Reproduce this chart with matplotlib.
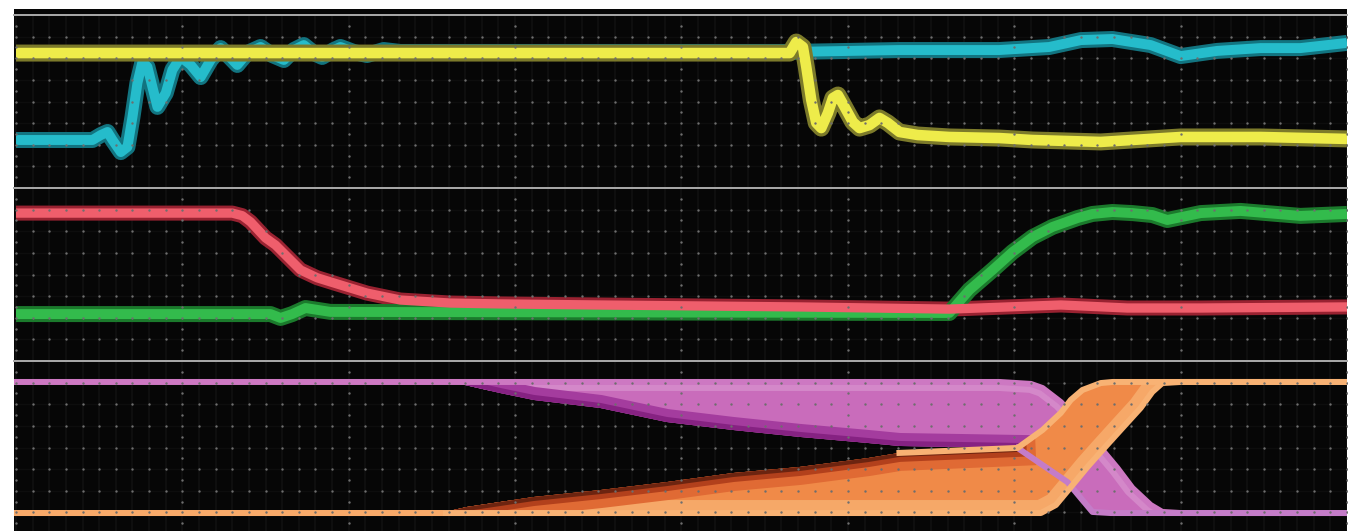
import numpy as np
import matplotlib
matplotlib.use("Agg")
import matplotlib.pyplot as plt

# time base: 8 divisions of 100 ns, every channel pair uses 8 vertical divisions

# pair 1: yellow / cyan
yel_t = [0, 231, 465, 469, 473, 475, 478, 481, 484, 488, 491, 494, 498, 503, 507, 513, 519, 524, 531, 542, 561, 591, 611, 652,
         700, 748, 800]
yel_v = [6.24, 6.24, 6.24, 6.75, 6.52, 5.60, 4.07, 3.01, 2.77, 3.47, 4.16, 4.30, 3.75, 3.05, 2.77, 2.91, 3.24, 3.01, 2.59, 2.45,
         2.36, 2.31, 2.22, 2.13, 2.36, 2.36, 2.27]
cya_t = [0, 46, 51, 55, 58, 63, 67, 70, 73, 76, 79, 82, 85, 90, 94, 99, 105, 111, 117, 123, 129, 133, 139, 147, 154, 161,
         167, 173, 179, 184, 191, 195, 203, 211, 221, 231, 465, 531, 591, 621, 640, 659, 682, 700, 722, 748, 772, 800]
cya_v = [2.22, 2.22, 2.45, 2.59, 2.22, 1.66, 1.90, 3.28, 4.86, 5.83, 5.60, 4.67, 3.75, 4.39, 5.46, 6.06, 5.69, 5.13, 5.92,
         6.47, 6.01, 5.69, 6.24, 6.52, 6.15, 5.92, 6.38, 6.61, 6.24, 6.06, 6.38, 6.52, 6.29, 6.15, 6.38, 6.29, 6.29, 6.38,
         6.38, 6.52, 6.84, 6.89, 6.61, 6.10, 6.34, 6.47, 6.47, 6.71]

# pair 2: red / green
red_t = [0, 130, 136, 141, 150, 156, 162, 171, 181, 191, 211, 231, 261, 291, 351, 471, 561, 628, 668, 712, 800]
red_v = [6.84, 6.84, 6.72, 6.43, 5.69, 5.36, 4.90, 4.21, 3.85, 3.61, 3.14, 2.82, 2.68, 2.64, 2.59, 2.50, 2.40, 2.59, 2.45, 2.45, 2.50]
grn_t = [0, 153, 159, 166, 174, 189, 561, 573, 587, 599, 611, 623, 638, 647, 659, 671, 683, 692, 712, 736, 772, 800]
grn_v = [2.17, 2.17, 1.99, 2.17, 2.45, 2.27, 2.22, 3.28, 4.21, 5.04, 5.73, 6.20, 6.61, 6.80, 6.89, 6.84, 6.75, 6.52, 6.84, 6.94, 6.71, 6.80]

# pair 3: magenta / orange persistence envelopes (upper and lower edge)
mag_up_t = [0, 591, 610, 617, 628, 635, 646, 653, 662, 671, 682, 689, 700, 800]
mag_up_v = [7.03, 7.03, 6.94, 6.75, 6.10, 5.50, 4.58, 3.88, 3.05, 2.13, 1.34, 1.02, 0.97, 0.97]
mag_lo_t = [0, 267, 291, 311, 351, 391, 431, 471, 512, 531, 602, 617, 632, 640, 647, 658, 800]
mag_lo_v = [7.03, 6.94, 6.52, 6.20, 5.83, 5.18, 4.81, 4.49, 4.21, 4.07, 3.98, 3.19, 2.40, 1.66, 1.02, 0.97, 0.97]
org_up_t = [0, 255, 271, 311, 351, 391, 431, 471, 512, 531, 602, 617, 628, 634, 641, 652, 659, 800]
org_up_v = [0.97, 0.97, 1.25, 1.71, 2.03, 2.40, 2.82, 3.10, 3.51, 3.75, 3.98, 4.81, 5.60, 6.20, 6.66, 6.98, 7.03, 7.03]
org_lo_t = [0, 616, 625, 634, 644, 653, 665, 676, 683, 689, 700, 800]
org_lo_v = [0.97, 0.97, 1.34, 2.17, 3.10, 3.88, 4.90, 5.83, 6.57, 6.98, 7.03, 7.03]

W, H = 1367, 531
PX = 0.72  # points per pixel at dpi 100


def trace(ax, t, v, core, edge, width, z_edge, z_core):
    kw = dict(solid_joinstyle="round", solid_capstyle="butt")
    ax.plot(t, v, color=edge, lw=width * PX, zorder=z_edge, **kw)
    ax.plot(t, v, color=core, lw=width * 0.62 * PX, zorder=z_core, **kw)


def strip(ax, t, v, color, width, clip, z):
    line, = ax.plot(t, v, color=color, lw=width * PX, zorder=z, solid_joinstyle="round")
    if clip is not None:
        line.set_clip_path(clip)
    return line


fig = plt.figure(figsize=(W / 100, H / 100), dpi=100, facecolor="white")
left, width = 14 / W, 1333 / W

bg = fig.add_axes([left, 0, width, 522 / H])
bg.set_facecolor("#060606")
bg.set_xticks([])
bg.set_yticks([])
for s in bg.spines.values():
    s.set_visible(False)

axes = []
for k in range(3):
    top = 15 + 173 * k
    ax = fig.add_axes([left, (H - top - 173) / H, width, 173 / H])
    ax.set_xlim(-1.2, 800)
    ax.set_ylim(0, 8)
    ax.patch.set_alpha(0)
    ax.set_xticks([])
    ax.set_yticks([])
    for s in ax.spines.values():
        s.set_visible(False)
    # graticule
    for xm in np.arange(0, 801, 10):
        ax.axvline(xm, color="#0f0f0f", lw=1.4, zorder=0.5)
    for ym in range(1, 8):
        ax.axhline(ym, color="#0d0d0d", lw=1.0, zorder=0.5)
    gx, gy = np.meshgrid(np.arange(0, 801, 10), np.arange(1, 8))
    ax.scatter(gx.ravel(), gy.ravel(), s=3.0, color="#6e6e6e", lw=0, zorder=10)
    mx, my = np.meshgrid(np.arange(0, 801, 100), np.arange(0.5, 8, 1.0))
    ax.scatter(mx.ravel(), my.ravel(), s=3.0, color="#6e6e6e", lw=0, zorder=10)
    ax.axhline(8, color="#a6a6a6", lw=2 * PX, zorder=11, clip_on=False)
    axes.append(ax)

ax1, ax2, ax3 = axes

# channel pair 1
trace(ax1, cya_t, cya_v, "#25bccb", "#127480", 16, 2, 2.1)
trace(ax1, yel_t, yel_v, "#eeec4a", "#7c7a2a", 17, 3, 3.1)

# channel pair 2 (green drawn between the red fringe and the red core)
trace(ax2, red_t, red_v, "#ef5e6c", "#992231", 15, 1.9, 3)
trace(ax2, grn_t, grn_v, "#33bb4c", "#1b7a2c", 16, 2, 2.1)

# channel pair 3, magenta fan
mag_poly = ax3.fill(np.r_[mag_up_t, mag_lo_t[::-1]], np.r_[mag_up_v, mag_lo_v[::-1]],
                    color="#c96cbb", lw=0, zorder=2)[0]
strip(ax3, mag_up_t, mag_up_v, "#d488c9", 18, mag_poly, 2.1)
strip(ax3, mag_lo_t[:11], mag_lo_v[:11], "#a43c9e", 26, mag_poly, 2.2)
strip(ax3, mag_lo_t[:11], mag_lo_v[:11], "#862282", 10, mag_poly, 2.3)
strip(ax3, mag_up_t, mag_up_v, "#cd78c2", 6, None, 2.4)

# orange fan
org_poly = ax3.fill(np.r_[org_up_t, org_lo_t[::-1]], np.r_[org_up_v, org_lo_v[::-1]],
                    color="#f08a48", lw=0, zorder=3)[0]
strip(ax3, org_lo_t, org_lo_v, "#f6a868", 26, org_poly, 3.1)
strip(ax3, org_up_t[:11], org_up_v[:11], "#e06a34", 36, org_poly, 3.2)
strip(ax3, org_up_t[:11], org_up_v[:11], "#b2401c", 18, org_poly, 3.3)
strip(ax3, org_up_t[:11], org_up_v[:11], "#6c2410", 8, org_poly, 3.4)

# bright edge strands
strip(ax3, mag_lo_t[10:], mag_lo_v[10:], "#c47cc8", 6, None, 4)
strip(ax3, org_lo_t, org_lo_v, "#f8b274", 6, None, 4.1)
strip(ax3, org_up_t[9:], org_up_v[9:], "#f8b274", 6, None, 4.2)
strip(ax3, org_up_t[:2], org_up_v[:2], "#f8aa6a", 6, None, 4.2)

fig.savefig("out.png", dpi=100, facecolor="white")
